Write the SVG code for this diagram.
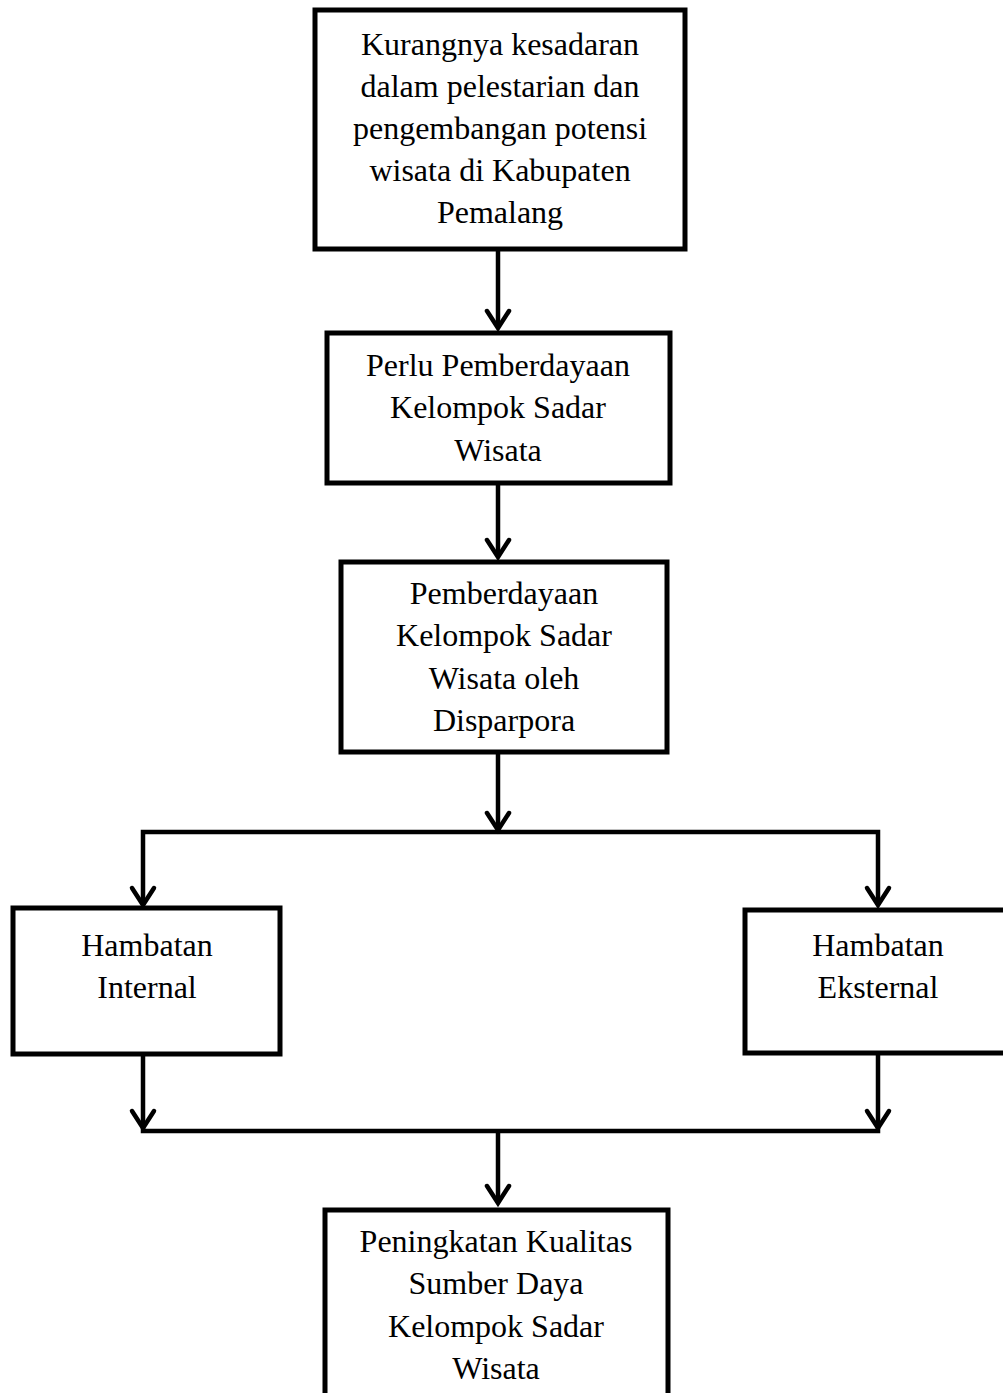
<svg xmlns="http://www.w3.org/2000/svg" width="1003" height="1393" viewBox="0 0 1003 1393">
<style>
.box{fill:#fff;stroke:#000;stroke-width:5}
.t{font-family:"Liberation Serif","Times New Roman",serif;font-size:32px;fill:#000;text-anchor:middle}
.ln{fill:none;stroke:#000;stroke-width:4.5;stroke-linejoin:miter}
.ah{fill:none;stroke:#000;stroke-width:4.5;stroke-linecap:round;stroke-linejoin:miter}
</style>
<rect width="1003" height="1393" fill="#fff"/>
<g id="connectors">
<path class="ln" d="M498 249V326"/>
<path class="ah" d="M487 311L498 328L509 311"/>
<path class="ln" d="M498 483V555"/>
<path class="ah" d="M487 540L498 557L509 540"/>
<path class="ln" d="M498 752V830"/>
<path class="ah" d="M487 813L498 830L509 813"/>
<path class="ln" d="M143 905V832H878V905"/>
<path class="ah" d="M132 888L143 905L154 888"/>
<path class="ah" d="M867 888L878 905L889 888"/>
<path class="ln" d="M143 1053V1131H878V1053"/>
<path class="ah" d="M132 1111L143 1128L154 1111"/>
<path class="ah" d="M867 1111L878 1128L889 1111"/>
<path class="ln" d="M498 1131V1203"/>
<path class="ah" d="M487 1186L498 1203L509 1186"/>
</g>
<g id="n1">
<rect class="box" x="315" y="10" width="370" height="239"/>
<text class="t"><tspan x="500" y="55">Kurangnya kesadaran</tspan><tspan x="500" y="97">dalam pelestarian dan</tspan><tspan x="500" y="139">pengembangan potensi</tspan><tspan x="500" y="181">wisata di Kabupaten</tspan><tspan x="500" y="223">Pemalang</tspan></text>
</g>
<g id="n2">
<rect class="box" x="327" y="333" width="343" height="150"/>
<text class="t"><tspan x="498" y="376">Perlu Pemberdayaan</tspan><tspan x="498" y="418">Kelompok Sadar</tspan><tspan x="498" y="461">Wisata</tspan></text>
</g>
<g id="n3">
<rect class="box" x="341" y="562" width="326" height="190"/>
<text class="t"><tspan x="504" y="604">Pemberdayaan</tspan><tspan x="504" y="646">Kelompok Sadar</tspan><tspan x="504" y="689">Wisata oleh</tspan><tspan x="504" y="731">Disparpora</tspan></text>
</g>
<g id="n4">
<rect class="box" x="13" y="908" width="267" height="146"/>
<text class="t"><tspan x="147" y="956">Hambatan</tspan><tspan x="147" y="998">Internal</tspan></text>
</g>
<g id="n5">
<rect class="box" x="745" y="910" width="270" height="143"/>
<text class="t"><tspan x="878" y="956">Hambatan</tspan><tspan x="878" y="998">Eksternal</tspan></text>
</g>
<g id="n6">
<rect class="box" x="325" y="1210" width="343" height="200"/>
<text class="t"><tspan x="496" y="1252">Peningkatan Kualitas</tspan><tspan x="496" y="1294">Sumber Daya</tspan><tspan x="496" y="1337">Kelompok Sadar</tspan><tspan x="496" y="1379">Wisata</tspan></text>
</g>
</svg>
